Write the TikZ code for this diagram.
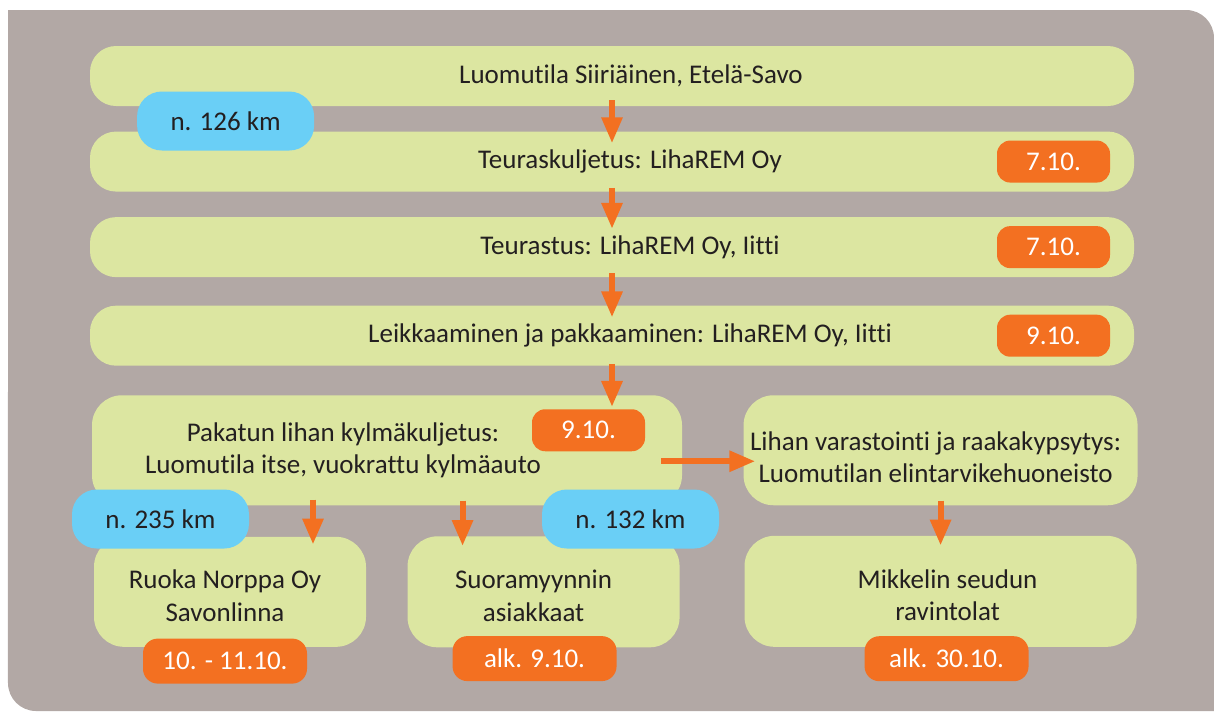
\documentclass[tikz,border=0pt]{standalone}
\usepackage{fontspec}
\setmainfont{Carlito}[Ligatures=NoCommon]
\usepackage{tikz}
\usetikzlibrary{calc}
\usetikzlibrary{arrows.meta,positioning}

\definecolor{backgrey}{HTML}{B2A8A5}
\definecolor{stagegreen}{HTML}{DCE6A1}
\definecolor{kmblue}{HTML}{6ACFF6}
\definecolor{dateorange}{HTML}{F37021}
\definecolor{inkdark}{HTML}{231F20}

\begin{document}
\begin{tikzpicture}[
		every node/.style={font=\fontsize{19.2pt}{23pt}\selectfont, text=inkdark},
		stage/.style={fill=stagegreen, rounded corners=0.65cm, minimum width=26.1cm, minimum height=1.5cm, inner sep=0pt},
		bigstage/.style={fill=stagegreen, rounded corners=0.75cm, minimum height=2.75cm, inner sep=0pt},
		kmtag/.style={fill=kmblue, rounded corners=0.62cm, minimum width=4.425cm, minimum height=1.475cm, inner sep=0pt},
		datetag/.style={fill=dateorange, text=white, rounded corners=0.33cm, minimum width=2.825cm, minimum height=1.05cm, inner sep=0pt},
		enddate/.style={datetag, minimum width=4.1cm, minimum height=1.125cm, rounded corners=0.37cm},
		flow/.style={draw=dateorange, line width=0.15cm, -{Triangle[width=0.5cm,length=0.65cm]}}
	]
		\useasboundingbox (0,0) rectangle (30.35,-17.775);
		% background
		\fill[backgrey] (0.2,-0.25) -- (29.65,-0.25) arc[start angle=90, end angle=0, radius=0.7cm]
			-- (30.35,-17.775) -- (0.9,-17.775) arc[start angle=270, end angle=180, radius=0.7cm] -- cycle;

		% stages
		\node[stage, label={[xshift=0.475cm]center:{Luomutila Siiriäinen, Etelä-Savo}}] (farm) at (15.3,-1.9) {};
		\node[stage, below=0.625cm of farm, label={[xshift=0.45cm]center:{Teuraskuljetus: LihaREM Oy}}] (haul) {};
		\node[stage, below=0.625cm of haul, label={[xshift=0.45cm]center:{Teurastus: LihaREM Oy, Iitti}}] (slaughter) {};
		\node[stage, below=0.7cm of slaughter, label={[xshift=0.45cm]center:{Leikkaaminen ja pakkaaminen: LihaREM Oy, Iitti}}] (cutting) {};
		\node[bigstage, minimum width=14.75cm, below right=0.725cm and 0.05cm of cutting.south west,
			label={[align=center, xshift=-1.1cm]center:{Pakatun lihan kylmäkuljetus:\\Luomutila itse, vuokrattu kylmäauto}}] (coldtrans) {};
		\node[bigstage, minimum width=9.85cm, right=1.525cm of coldtrans,
			label={[align=center, xshift=-0.125cm, yshift=-0.175cm]center:{Lihan varastointi ja raakakypsytys:\\Luomutilan elintarvikehuoneisto}}] (storage) {};
		\node[bigstage, minimum width=6.8cm, below right=0.775cm and 0.05cm of coldtrans.south west,
			label={[align=center, xshift=-0.125cm, yshift=-0.1cm]center:{Ruoka Norppa Oy\\Savonlinna}}] (norppa) {};
		\node[bigstage, minimum width=6.8cm, minimum height=2.775cm, right=1.025cm of norppa,
			label={[align=center, xshift=-0.25cm, yshift=-0.1cm]center:{Suoramyynnin\\asiakkaat}}] (direct) {};
		\node[bigstage, minimum width=9.8cm, minimum height=2.775cm, below=0.75cm of storage,
			label={[align=center, xshift=0.175cm, yshift=-0.1cm]center:{Mikkelin seudun\\ravintolat}}] (restaurants) {};

		% distances and dates
		\node[kmtag] (km126) at (5.64,-3.025) {n. 126 km};
		\node[datetag, left=0.6cm of haul.east] (haulday) {7.10.};
		\node[datetag, left=0.6cm of slaughter.east] (slaughterday) {7.10.};
		\node[datetag, left=0.6cm of cutting.east] (cuttingday) {9.10.};
		\node[datetag, below left=0.35cm and 0.925cm of coldtrans.north east] (coldday) {9.10.};
		\node[kmtag] (km235) at (4.0125,-12.975) {n. 235 km};
		\node[kmtag] (km132) at (15.7625,-12.975) {n. 132 km};
		\node[enddate] (norppaday) at ([xshift=-0.125cm,yshift=-0.35cm]norppa.south) {10. - 11.10.};
		\node[enddate] (directday) at ([xshift=-0.225cm,yshift=-0.275cm]direct.south) {alk. 9.10.};
		\node[enddate] (restday) at ([xshift=0.15cm,yshift=-0.29cm]restaurants.south) {alk. 30.10.};

		% flow
		\draw[flow] ([yshift=0.15cm]farm.south) -- ([yshift=-0.3cm]haul.north);
		\draw[flow] ([yshift=0.1cm]haul.south) -- ([yshift=-0.3cm]slaughter.north);
		\draw[flow] ([yshift=0.1cm]slaughter.south) -- ([yshift=-0.3cm]cutting.north);
		\draw[flow] ([yshift=0.05cm]cutting.south) -- ($(cutting.south |- coldtrans.north)+(0,-0.3)$);
		\draw[flow] ([xshift=-0.525cm,yshift=-0.275cm]coldtrans.east) coordinate (h)
			-- ($(h -| storage.west)+(0.3,0)$);
		\draw[flow] ($(norppa.north |- coldtrans.south)+(2.075,0.15)$) -- ($(norppa.north)+(2.075,-0.2)$);
		\draw[flow] ($(direct.north |- coldtrans.south)+(-2.025,0.125)$) -- ($(direct.north)+(-2.025,-0.25)$);
		\draw[flow] ([yshift=0.125cm]storage.south) -- ([yshift=-0.25cm]storage.south |- restaurants.north);
	\end{tikzpicture}
\end{document}
